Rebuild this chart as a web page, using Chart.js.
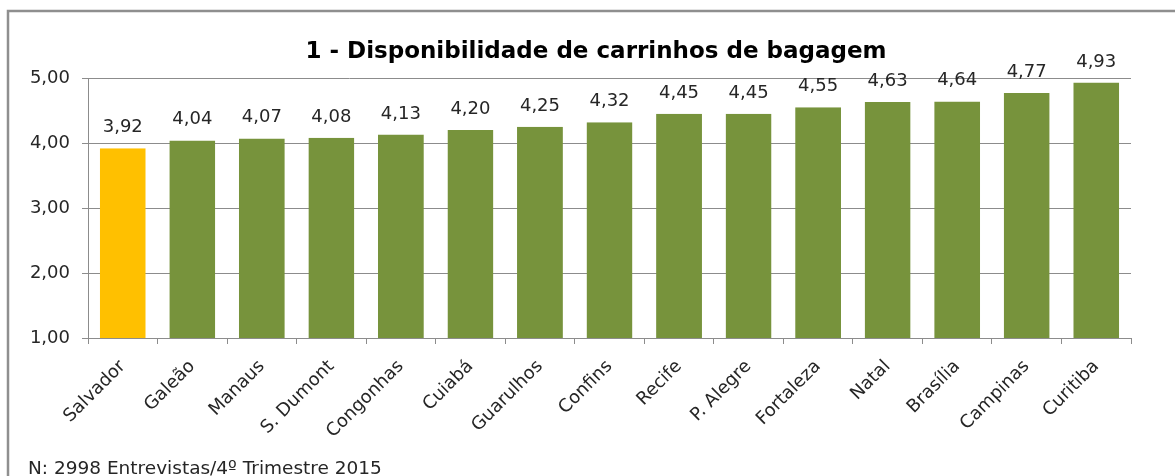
<!DOCTYPE html>
<html>
<head>
<meta charset="utf-8">
<script src="https://cdn.jsdelivr.net/npm/chart.js@4"></script>
<style>
html,body{margin:0;padding:0;background:#fff;}
#wrap{width:1175px;height:476px;position:relative;}
</style>
</head>
<body>
<div id="wrap"><canvas id="c" width="1175" height="476"></canvas></div>
<script>
const categories = ["Salvador","Galeão","Manaus","S. Dumont","Congonhas","Cuiabá","Guarulhos","Confins","Recife","P. Alegre","Fortaleza","Natal","Brasília","Campinas","Curitiba"];
const values = [3.92,4.04,4.07,4.08,4.13,4.20,4.25,4.32,4.45,4.45,4.55,4.63,4.64,4.77,4.93];
const yTicks = [1,2,3,4,5];
const titleText = "1 - Disponibilidade de carrinhos de bagagem";
const footnote = "N: 2998 Entrevistas/4º Trimestre 2015";

const FONT = "'DejaVu Sans', sans-serif";
const fmt = v => v.toFixed(2).replace('.', ',');
const barColors = categories.map((c,i) => i === 0 ? '#FFC000' : '#77933C');

const decor = {
  id: 'decor',
  beforeDraw(chart) {
    const ctx = chart.ctx;
    ctx.save();
    ctx.fillStyle = '#fff';
    ctx.fillRect(0,0,chart.width,chart.height);
    ctx.strokeStyle = '#8f8f8f';
    ctx.lineWidth = 2.5;
    ctx.strokeRect(8, 11, 1250, 600);
    ctx.restore();
  },
  afterDraw(chart) {
    const ctx = chart.ctx;
    ctx.save();
    ctx.fillStyle = '#000';
    ctx.textAlign = 'center';
    ctx.textBaseline = 'alphabetic';
    ctx.font = "bold 23px " + FONT;
    ctx.fillText(titleText, 596, 58);
    ctx.font = "18.5px " + FONT;
    ctx.fillStyle = '#262626';
    ctx.textAlign = 'left';
    ctx.fillText(footnote, 28, 474);
    ctx.restore();
  },
  afterDatasetsDraw(chart) {
    const ctx = chart.ctx;
    const meta = chart.getDatasetMeta(0);
    ctx.save();
    ctx.font = "18px " + FONT;
    ctx.fillStyle = '#262626';
    ctx.textAlign = 'center';
    ctx.textBaseline = 'alphabetic';
    meta.data.forEach((bar, i) => {
      ctx.fillText(fmt(values[i]), bar.x, bar.y - 16);
    });
    ctx.restore();
  }
};

new Chart(document.getElementById('c'), {
  type: 'bar',
  data: {
    labels: categories,
    datasets: [{
      data: values,
      backgroundColor: barColors,
      borderColor: '#3f8ad0',
      borderWidth: {top:0,left:0,right:0,bottom:2},
      borderSkipped: false,
      categoryPercentage: 1,
      barPercentage: 0.66
    }]
  },
  options: {
    responsive: false,
    animation: false,
    devicePixelRatio: 1,
    layout: { padding: { left: 0, right: 44, top: 78, bottom: 0 } },
    plugins: {
      legend: { display: false },
      tooltip: { enabled: false },
      title: { display: false }
    },
    scales: {
      x: {
        grid: { display: true, drawOnChartArea: false, drawTicks: true, tickLength: 6, color: '#8c8c8c', offset: true },
        border: { color: '#8c8c8c', width: 1 },
        ticks: { color: '#262626', font: { family: FONT, size: 18 }, minRotation: 45, maxRotation: 45, padding: 12, autoSkip: false },
        afterFit(s) { s.height = 138; }
      },
      y: {
        min: 1, max: 5,
        afterBuildTicks(s) { s.ticks = yTicks.map(v => ({ value: v })); },
        grid: { color: '#8c8c8c', tickLength: 6 },
        border: { color: '#8c8c8c', width: 1 },
        ticks: { color: '#262626', font: { family: FONT, size: 18 }, padding: 12, callback: v => fmt(v) },
        afterFit(s) { s.width = 88; }
      }
    }
  },
  plugins: [decor]
});
</script>
</body>
</html>
